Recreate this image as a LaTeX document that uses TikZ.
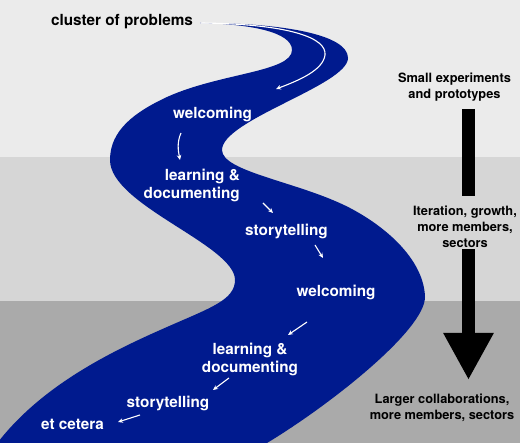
\documentclass[tikz,border=0pt]{standalone}
\usepackage{fontspec}
\setmainfont{TeX Gyre Heros}
\usepackage{xcolor}
\definecolor{riverblue}{RGB}{0,26,142}
\definecolor{bandtop}{RGB}{235,235,235}
\definecolor{bandmid}{RGB}{214,214,214}
\definecolor{bandlow}{RGB}{170,170,170}
\usetikzlibrary{
	arrows.meta % for the arrow tips
	}

\begin{document}
\begin{tikzpicture}[x=1pt,y=-1pt,
    stage/.style={text=white,inner sep=0pt,
        font=\fontsize{15.3}{18}\selectfont\bfseries},
    note/.style={text=black,inner sep=0pt,align=center,
        font=\fontsize{12.8}{15.8}\selectfont\bfseries},
    flow/.style={white,line width=1.1pt,
        -{Stealth[length=5pt,width=4.5pt]}},
    bar/.style={black,line width=13pt}]

            \useasboundingbox (0,0) rectangle (520,443);

            % Bands
            \fill[bandtop] (0,0) rectangle (520,157);
            \fill[bandmid] (0,157) rectangle (520,301);
            \fill[bandlow] (0,301) rectangle (520,443);

            % River
            \begin{scope}
            \clip (0,0) rectangle (520,443);
            \fill[riverblue] (200,23)
                .. controls (285,23) and (348,35) .. (348,58)
                .. controls (348,85) and (222,120) .. (222,150)
                .. controls (222,172) and (300,182) .. (350,208)
                .. controls (390,229) and (424,262) .. (425,297)
                .. controls (425,330) and (330,405) .. (267,443)
                -- (250,455) -- (-10,455) -- (-10,453)
                .. controls (35,388) and (110,352) .. (167,327)
                .. controls (210,308) and (235,300) .. (235,280)
                .. controls (235,245) and (110,205) .. (110,160)
                .. controls (110,130) and (135,112) .. (167,97)
                .. controls (220,73) and (292,72) .. (292,50)
                .. controls (292,32) and (250,24) .. (200,23)
                -- cycle;
            \end{scope}

            % Stages
            \node[stage,text=black] (cluster) at (122,21.5) {cluster of problems};
            \node[stage] (welcomeA) at (212.5,114) {welcoming};
            \node[stage,align=right,anchor=east] (learnA) at (240,185.5) {learning \&\\documenting};
            \node[stage] (storyA) at (286.5,231) {storytelling};
            \node[stage] (welcomeB) at (336,292) {welcoming};
            \node[stage,align=center] (learnB) at (250,359) {learning \&\\documenting};
            \node[stage] (storyB) at (168,403.5) {storytelling};
            \node[stage] (etc) at (72.5,424) {et cetera};

            % Flow arrows
            \coordinate (f1a) at (201,23);
            \coordinate (f1b) at (276,89);
            \coordinate (f2a) at (181,133);
            \coordinate (f2b) at (180,160);
            \coordinate (f3a) at (263,203);
            \coordinate (f3b) at (273,213);
            \coordinate (f4a) at (315,245);
            \coordinate (f4b) at (323,258);
            \coordinate (f5a) at (307,322);
            \coordinate (f5b) at (288,335);
            \coordinate (f6a) at (229,378);
            \coordinate (f6b) at (213,390);
            \coordinate (f7a) at (140,415);
            \coordinate (f7b) at (118,422);
            \draw[flow] (f1a) .. controls (290,24) and (327,38) .. (325,55)
                .. controls (323,70) and (300,80) .. (f1b);
            \draw[flow] (f2a) .. controls (177,142) and (178,150) .. (f2b);
            \draw[flow] (f3a) -- (f3b);
            \draw[flow] (f4a) -- (f4b);
            \draw[flow] (f5a) -- (f5b);
            \draw[flow] (f6a) -- (f6b);
            \draw[flow] (f7a) -- (f7b);

            % Scale
            \node[note] (small) at (454.5,87.5) {Small experiments\\and prototypes};
            \node[note] (iter) at (465,226.5) {Iteration, growth,\\more members,\\sectors};
            \node[note] (large) at (442,408) {Larger collaborations,\\more members, sectors};
            \coordinate (s1a) at (468.5,109);
            \coordinate (s1b) at (468.5,196);
            \coordinate (s2a) at (468.5,249);
            \coordinate (s2b) at (468.5,380);
            \draw[bar] (s1a) -- (s1b);
            \draw[bar,-{Triangle[width=47pt,length=47pt]}] (s2a) -- (s2b);

        \end{tikzpicture}
\end{document}
